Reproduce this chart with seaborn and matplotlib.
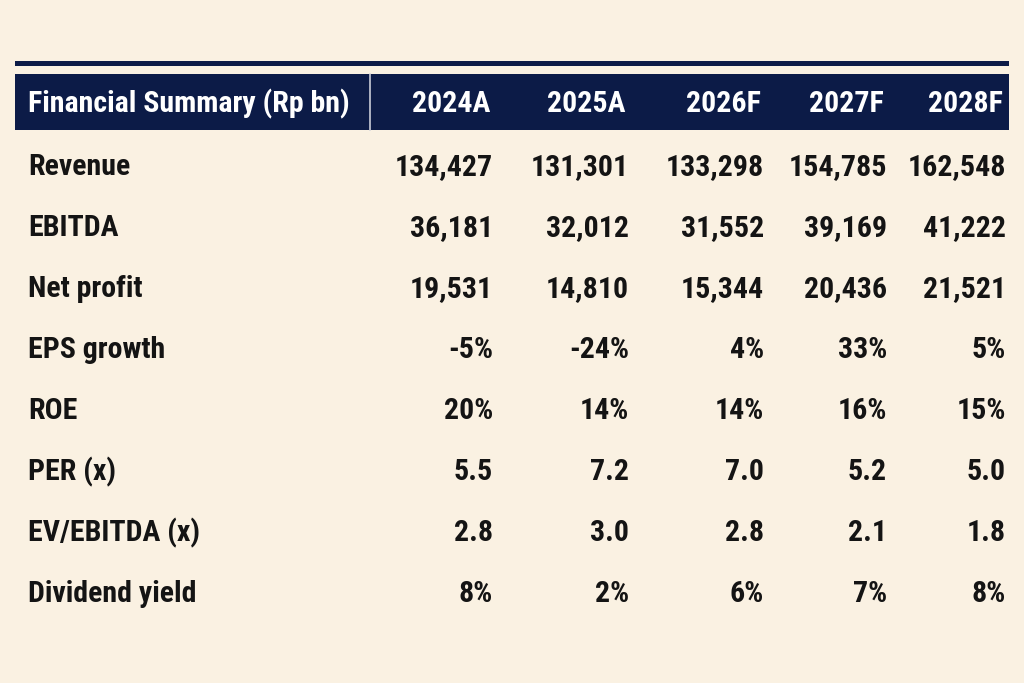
import matplotlib

matplotlib.use("Agg")

import matplotlib.pyplot as plt
import pandas as pd
import seaborn as sns
from matplotlib.patches import Rectangle

# ---- data -------------------------------------------------------------
years = ["2024A", "2025A", "2026F", "2027F", "2028F"]
header_title = "Financial Summary (Rp bn)"
metrics = ["Revenue", "EBITDA", "Net profit", "EPS growth", "ROE",
           "PER (x)", "EV/EBITDA (x)", "Dividend yield"]

revenue = [134427, 131301, 133298, 154785, 162548]
ebitda = [36181, 32012, 31552, 39169, 41222]
net_profit = [19531, 14810, 15344, 20436, 21521]
eps_growth = [-5, -24, 4, 33, 5]
roe = [20, 14, 14, 16, 15]
per = [5.5, 7.2, 7.0, 5.2, 5.0]
ev_ebitda = [2.8, 3.0, 2.8, 2.1, 1.8]
div_yield = [8, 2, 6, 7, 8]

formats = ["{:,.0f}", "{:,.0f}", "{:,.0f}", "{:.0f}%", "{:.0f}%",
           "{:.1f}", "{:.1f}", "{:.0f}%"]

table = pd.DataFrame(
    [revenue, ebitda, net_profit, eps_growth, roe, per, ev_ebitda, div_yield],
    index=metrics, columns=years,
)

# ---- style ------------------------------------------------------------
BG = "#FAF1E2"
NAVY = "#0C1B47"
INK = "#141414"

sns.set_theme(style="white")
plt.rcParams["font.family"] = ["Roboto Condensed", "Roboto", "DejaVu Sans"]
plt.rcParams["font.weight"] = "bold"

fig = plt.figure(figsize=(10.24, 6.83), dpi=100)
fig.patch.set_facecolor(BG)
ax = fig.add_axes([0, 0, 1, 1])
ax.set_facecolor(BG)
ax.set_xlim(0, 1024)
ax.set_ylim(683, 0)
ax.axis("off")

# layout (pixel space)
left, right = 15, 1009
rule_top, rule_h = 61, 5
head_top, head_bot = 74, 130
divider_x = 370
label_x = 28
col_right = [493, 629, 764, 887, 1006]
head_baseline = 112
first_baseline, row_step = 175, 61
fs = 21.5

ax.add_patch(Rectangle((left, rule_top), right - left, rule_h, color=NAVY, lw=0))
ax.add_patch(Rectangle((left, head_top), right - left, head_bot - head_top, color=NAVY, lw=0))
ax.plot([divider_x, divider_x], [head_top, head_bot], color="#C9CCD8", lw=1.2)

ax.text(label_x, head_baseline, header_title, color="white", fontsize=fs,
        fontweight="bold", ha="left", va="baseline")
for xr, yr in zip(col_right, years):
    ax.text(xr - 3, head_baseline, yr, color="white", fontsize=fs,
            fontweight="bold", ha="right", va="baseline")

for i, (name, fmt) in enumerate(zip(table.index, formats)):
    yb = first_baseline + i * row_step
    ax.text(label_x, yb, name, color=INK, fontsize=fs, fontweight="bold",
            ha="left", va="baseline")
    for xr, val in zip(col_right, table.loc[name]):
        ax.text(xr, yb, fmt.format(val), color=INK, fontsize=fs,
                fontweight="bold", ha="right", va="baseline")

fig.savefig("out.png", dpi=100, facecolor=BG)
